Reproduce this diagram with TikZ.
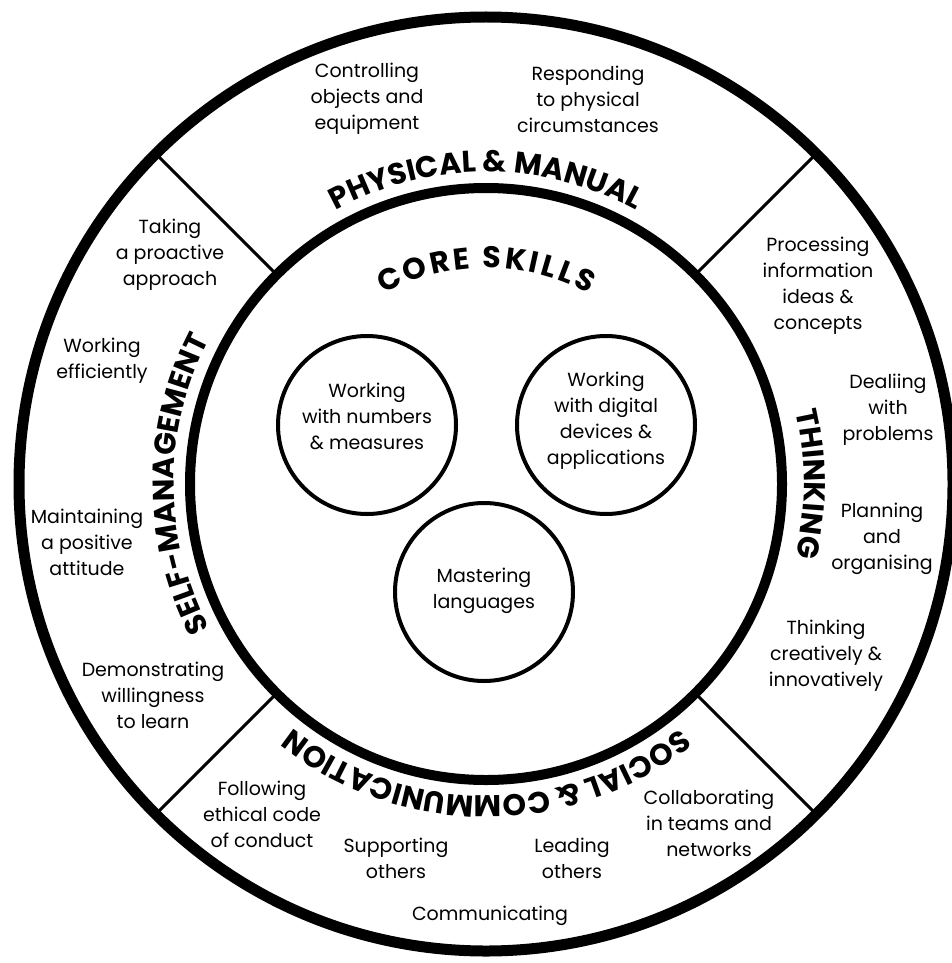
\documentclass[tikz,border=0pt]{standalone}
\usepackage{fontspec}
\setmainfont{Poppins}
\usetikzlibrary{decorations.text,calc}
\newcommand{\ks}{{\kern3.2pt}}
\begin{document}
\begin{tikzpicture}[x=1pt,y=-1pt,
  txt/.style={align=center, font=\fontsize{19}{26}\selectfont, inner sep=0pt},
  skill/.style={draw, circle, line width=4pt, minimum size=178pt, inner sep=0pt},
  divider/.style={line width=3pt},
  ring/.style={line width=11pt},
  head/.style={decorate, decoration={text along path, text align=center,
     text={|\fontsize{30}{30}\selectfont\bfseries|#1}}},
]
\useasboundingbox (0,0) rectangle (952,963);
\coordinate (O) at (486,484);
\draw[ring] (O) circle[radius=467];
\draw[ring, line width=10pt] (O) circle[radius=296];
\foreach \a/\n in {45/a,135/b,225/c,315/d}{
  \coordinate (in\n) at ($(O)+(\a:296)$);
  \coordinate (out\n) at ($(O)+(\a:467)$);
  \draw[divider] (in\n) -- (out\n);
}
% headings along arcs
\path[head={PHYSICAL {\&} MANUAL}] ($(O)+(-150:312)$) arc[start angle=-150, end angle=-30, radius=312];
\path[head={THINKING}] ($(O)+(-40:318)$) arc[start angle=-40, end angle=40, radius=318];
\path[head={SOCIAL {\&} COMMUNICATION}] ($(O)+(15:312)$) arc[start angle=15, end angle=165, radius=312];
\path[head={SELF-MANAGEMENT}] ($(O)+(110:312)$) arc[start angle=110, end angle=250, radius=312];
\path[head={C{\kern3pt}O{\kern3pt}R{\kern3pt}E{\kern3pt} {\kern3pt}S{\kern3pt}K{\kern3pt}I{\kern3pt}L{\kern3pt}L{\kern3pt}S}] ($(O)+(-150:216)$) arc[start angle=-150, end angle=-30, radius=216];
% core skills circles
\node[skill] (num) at (367,425) {};
\node[skill] (dig) at (606,425) {};
\node[skill] (lang) at (484,592) {};
\node[txt] (numt) at (367,416) {Working\\with numbers\\\& measures};
\node[txt] (digt) at (606,421) {Working\\with digital\\devices \&\\applications};
\node[txt] (langt) at (484,591) {Mastering\\languages};
% physical
\node[txt] (ctrl) at (367,99) {Controlling\\objects and\\equipment};
\node[txt] (resp) at (588,99) {Responding\\to physical\\circumstances};
% self-management
\node[txt] (take) at (170,255) {Taking\\a proactive\\approach};
\node[txt] (eff) at (102,361) {Working\\efficiently};
\node[txt] (pos) at (87,542) {Maintaining\\a positive\\attitude};
\node[txt] (will) at (153,695) {Demonstrating\\willingness\\to learn};
% thinking
\node[txt] (proc) at (818,286) {Processing\\information\\ideas \&\\concepts};
\node[txt] (prob) at (888,410) {Dealiing\\with\\problems};
\node[txt] (plan) at (882,539) {Planning\\and\\organising};
\node[txt] (crea) at (826,656) {Thinking\\creatively \&\\innovatively};
% social
\node[txt] (eth) at (262,814) {Following\\ethical code\\of conduct};
\node[txt] (supp) at (396,858) {Supporting\\others};
\node[txt] (lead) at (572,858) {Leading\\others};
\node[txt] (coll) at (709,823) {Collaborating\\in teams and\\networks};
\node[txt] (comm) at (490,916) {Communicating};
\end{tikzpicture}
\end{document}
